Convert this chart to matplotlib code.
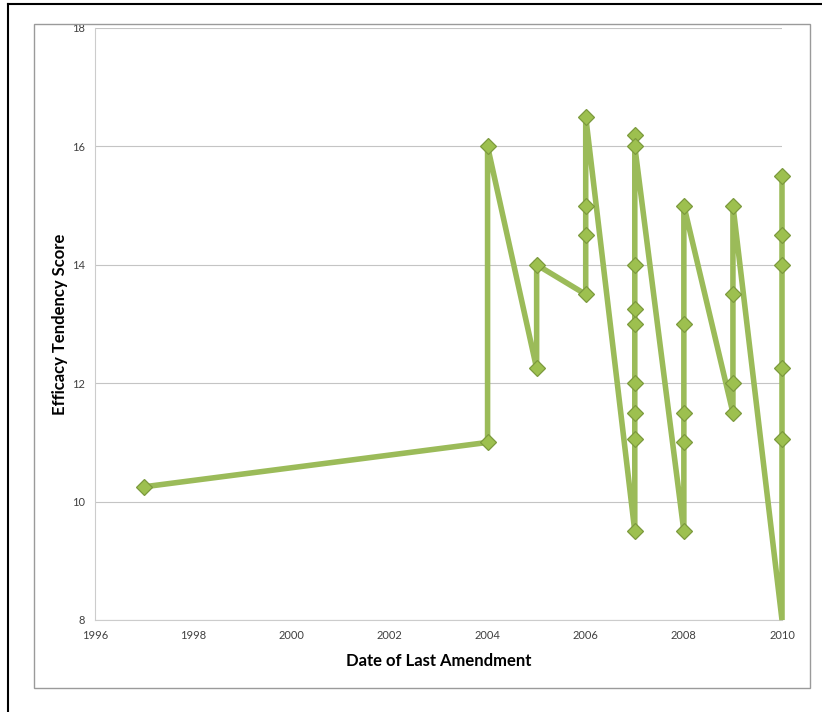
import numpy as np
from matplotlib import pyplot as plt
from matplotlib.lines import Line2D
from matplotlib.patches import Rectangle

# data, in drawing order
years = [1997, 2004, 2004, 2005, 2005, 2006, 2006, 2006, 2006,
         2007, 2007, 2007, 2007, 2007, 2007, 2007, 2007, 2007,
         2008, 2008, 2008, 2008, 2008,
         2009, 2009, 2009, 2009,
         2010, 2010, 2010, 2010, 2010, 2010]
scores = [10.25, 11.0, 16.0, 12.25, 14.0, 13.5, 14.5, 15.0, 16.5,
          9.5, 11.05, 11.5, 12.0, 13.0, 13.25, 14.0, 16.2, 16.0,
          9.5, 11.0, 11.5, 13.0, 15.0,
          11.5, 12.0, 13.5, 15.0,
          8.0, 11.05, 12.25, 14.0, 14.5, 15.5]
xTicks = [1996, 1998, 2000, 2002, 2004, 2006, 2008, 2010]
yTicks = [8, 10, 12, 14, 16, 18]

plt.rcParams['font.family'] = ['Lato', 'DejaVu Sans']

fig = plt.figure(figsize=(8.22, 7.12), dpi=100)

# outer black frame and inner chart frame (figure pixel coords -> fractions)
W, H = 822.0, 712.0
fig.add_artist(Line2D([8 / W, 8 / W], [0, 1 - 4 / H], color='black', lw=1.5))
fig.add_artist(Line2D([8 / W, 1], [1 - 4 / H, 1 - 4 / H], color='black', lw=1.5))
fig.add_artist(Rectangle((34 / W, 1 - 688 / H), (810 - 34) / W, (688 - 24) / H,
                         fill=False, edgecolor='#9a9a9a', lw=1.0))

ax = fig.add_axes([95 / W, 1 - 620 / H, (782 - 95) / W, (620 - 28) / H])
ax.plot(years, scores, color='#9BBB59', lw=4.0, zorder=3, clip_on=False,
        solid_joinstyle='miter')
# the bottom 2010 point sits on the axis edge and shows no marker
shown = [i for i, v in enumerate(scores) if v > 8]
ax.plot([years[i] for i in shown], [scores[i] for i in shown], ls='none',
        marker='D', markersize=8.2, markerfacecolor='#9DC04F',
        markeredgecolor='#7C9A3D', markeredgewidth=0.9, zorder=4, clip_on=False)

ax.set_xlim(1996, 2010)
ax.set_ylim(8, 18)
ax.set_xticks(xTicks)
ax.set_yticks(yTicks)
ax.tick_params(axis='both', length=0, labelsize=8, colors='#404040', pad=7)
ax.grid(axis='y', color='#c4c4c4', lw=0.8)
ax.set_axisbelow(True)
for side in ['top', 'right']:
    ax.spines[side].set_visible(False)
for side in ['left', 'bottom']:
    ax.spines[side].set_color('#cccccc')

ax.set_xlabel('Date of Last Amendment', fontsize=12, fontweight='bold', labelpad=9)
ax.set_ylabel('Efficacy Tendency Score', fontsize=12, fontweight='bold', labelpad=3)

plt.savefig('out.png', dpi=100)
